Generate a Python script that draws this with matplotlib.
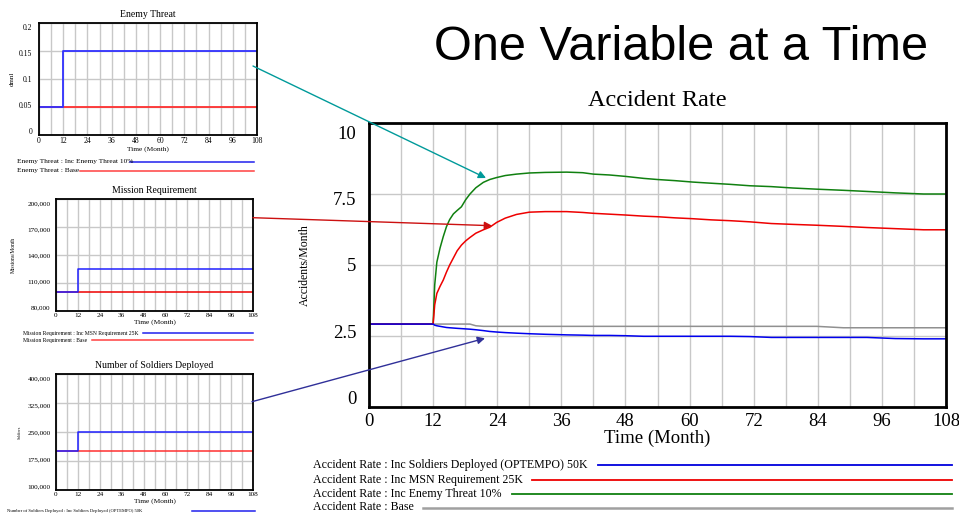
import matplotlib
matplotlib.use('Agg')
import matplotlib.pyplot as plt
import matplotlib.transforms as mtransforms
import numpy as np

# ---- data ----
months = [0, 12, 12.3, 12.7, 13.3, 13.9, 14.5, 15.1, 15.8, 16.5, 17.3, 18.1, 18.9, 20, 21.4,
          22.6, 23.9, 25.5, 27.6, 30, 33, 37, 40, 42, 45, 48, 51.4, 54, 57.3, 60.6, 64,
          67.6, 71.3, 75.3, 79.4, 83.8, 88.8, 93.2, 98.5, 103.8, 108]

rate_soldiers = [2.92, 2.92, 2.88, 2.86, 2.84, 2.82, 2.80, 2.79, 2.78, 2.77, 2.76, 2.75, 2.74, 2.72, 2.69,
                 2.66, 2.64, 2.62, 2.60, 2.58, 2.56, 2.54, 2.53, 2.52, 2.52, 2.51, 2.49, 2.49, 2.49, 2.49, 2.49,
                 2.49, 2.48, 2.45, 2.45, 2.45, 2.45, 2.45, 2.41, 2.40, 2.40]
rate_msn = [2.92, 2.92, 3.60, 4.00, 4.25, 4.47, 4.75, 5.00, 5.25, 5.50, 5.70, 5.85, 5.97, 6.12, 6.24,
            6.33, 6.50, 6.65, 6.78, 6.86, 6.88, 6.88, 6.85, 6.82, 6.79, 6.76, 6.72, 6.70, 6.66, 6.63, 6.59,
            6.56, 6.52, 6.46, 6.43, 6.40, 6.36, 6.32, 6.28, 6.24, 6.24]
rate_threat = [2.92, 2.92, 4.30, 5.10, 5.60, 6.00, 6.35, 6.60, 6.80, 6.92, 7.05, 7.30, 7.50, 7.72, 7.91,
               8.01, 8.08, 8.15, 8.20, 8.24, 8.26, 8.27, 8.25, 8.20, 8.17, 8.12, 8.05, 8.01, 7.97, 7.92, 7.88,
               7.84, 7.79, 7.76, 7.71, 7.67, 7.63, 7.59, 7.54, 7.50, 7.50]
rate_base = [2.92, 2.92, 2.92, 2.92, 2.92, 2.92, 2.92, 2.92, 2.92, 2.92, 2.92, 2.92, 2.92, 2.86, 2.84,
             2.84, 2.84, 2.84, 2.84, 2.84, 2.84, 2.84, 2.84, 2.84, 2.84, 2.84, 2.84, 2.84, 2.84, 2.84, 2.84,
             2.84, 2.84, 2.84, 2.84, 2.84, 2.79, 2.79, 2.79, 2.79, 2.79]

step_t = [0, 12, 108]
threat_inc = [0.05, 0.15, 0.15]
threat_base = [0.05, 0.05, 0.05]
msn_inc = [100000, 125000, 125000]
msn_base = [100000, 100000, 100000]
sold_inc = [200000, 250000, 250000]
sold_base = [200000, 200000, 200000]

main_labels = ['Accident Rate : Inc Soldiers Deployed (OPTEMPO) 50K',
               'Accident Rate : Inc MSN Requirement 25K',
               'Accident Rate : Inc Enemy Threat 10%',
               'Accident Rate : Base']

SERIF = ['Liberation Serif', 'DejaVu Serif']
SANS = ['Liberation Sans', 'DejaVu Sans']
GRID = '#c8c8c8'

W, H = 959, 514
fig = plt.figure(figsize=(W / 100, H / 100), dpi=100)


def box(l, t, r, b):
    return [l / W, 1 - b / H, (r - l) / W, (b - t) / H]


def squeeze_labels(ax, vals, px):
    # vensim draws the y labels pulled in toward the middle of the axis
    lo, hi = vals[0], vals[-1]
    mid, half = (lo + hi) / 2, (hi - lo) / 2
    for tick, v in zip(ax.yaxis.get_major_ticks(), vals):
        dy = -(v - mid) / half * px / 100
        off = mtransforms.ScaledTranslation(0, dy, fig.dpi_scale_trans)
        tick.label1.set_transform(tick.label1.get_transform() + off)


def style_axes(ax, lw, fs, pad):
    ax.set_xlim(0, 108)
    ax.set_xticks(range(0, 109, 12))
    ax.set_xticks(range(6, 108, 12), minor=True)
    ax.grid(True, which='both', axis='x', color=GRID, lw=1)
    ax.grid(True, which='major', axis='y', color=GRID, lw=1)
    ax.tick_params(which='both', length=0, labelsize=fs, pad=pad)
    for lab in ax.get_xticklabels() + ax.get_yticklabels():
        lab.set_family(SERIF)
    for s in ax.spines.values():
        s.set_linewidth(lw)
        s.set_color('black')
    ax.set_axisbelow(True)


# ---- main chart ----
ax = fig.add_axes(box(369, 123, 946, 407))
ax.plot(months, rate_base, color='#909090', lw=1.1)
ax.plot(months, rate_threat, color='#108010', lw=1.1)
ax.plot(months, rate_msn, color='#ee0000', lw=1.1)
ax.plot(months, rate_soldiers, color='#0000ee', lw=1.1)
ax.set_ylim(0, 10)
yv = [0, 2.5, 5, 7.5, 10]
ax.set_yticks(yv)
ax.set_yticklabels(['0', '2.5', '5', '7.5', '10'])
style_axes(ax, 2, 13.5, 4)
ax.tick_params(axis='y', pad=9)
squeeze_labels(ax, yv, 10)
ax.set_xlabel('Time (Month)', family=SERIF, fontsize=13.5, labelpad=0)
ax.set_ylabel('Accidents/Month', family=SERIF, fontsize=8.5, labelpad=16)
ax.set_title('Accident Rate', family=SERIF, fontsize=17.5, pad=12)

# ---- small charts ----
a1 = fig.add_axes(box(39, 23, 257, 135))
a1.plot(step_t, threat_base, color='#ff3030', lw=1.3, drawstyle='steps-post')
a1.plot(step_t, threat_inc, color='#3030ff', lw=1.3, drawstyle='steps-post')
a1.set_ylim(0, 0.2)
v1 = [0, 0.05, 0.1, 0.15, 0.2]
a1.set_yticks(v1)
a1.set_yticklabels(['0', '0.05', '0.1', '0.15', '0.2'])
style_axes(a1, 1.3, 5.5, 1.5)
a1.tick_params(axis='y', pad=5)
squeeze_labels(a1, v1, 4)
a1.set_xlabel('Time (Month)', family=SERIF, fontsize=5.3, labelpad=0.5)
a1.set_ylabel('dmnl', family=SERIF, fontsize=5, labelpad=3)
a1.set_title('Enemy Threat', family=SERIF, fontsize=7, pad=4)

a2 = fig.add_axes(box(56, 199, 253, 311))
a2.plot(step_t, msn_base, color='#ee0000', lw=1.1, drawstyle='steps-post')
a2.plot(step_t, msn_inc, color='#2020ff', lw=1.1, drawstyle='steps-post')
a2.set_ylim(80000, 200000)
v2 = [80000, 110000, 140000, 170000, 200000]
a2.set_yticks(v2)
a2.set_yticklabels([f'{v:,}' for v in v2])
style_axes(a2, 1.3, 5.2, 1.5)
a2.tick_params(axis='y', pad=4)
squeeze_labels(a2, v2, 4)
a2.set_xlabel('Time (Month)', family=SERIF, fontsize=5.3, labelpad=0.5)
a2.set_ylabel('Missions/Month', family=SERIF, fontsize=4, labelpad=8)
a2.set_title('Mission Requirement', family=SERIF, fontsize=7, pad=4)

a3 = fig.add_axes(box(56, 374, 253, 490))
a3.plot(step_t, sold_base, color='#ff3030', lw=1.1, drawstyle='steps-post')
a3.plot(step_t, sold_inc, color='#2020ff', lw=1.1, drawstyle='steps-post')
a3.set_ylim(100000, 400000)
v3 = [100000, 175000, 250000, 325000, 400000]
a3.set_yticks(v3)
a3.set_yticklabels([f'{v:,}' for v in v3])
style_axes(a3, 1.3, 5.2, 1.5)
a3.tick_params(axis='y', pad=4)
squeeze_labels(a3, v3, 4)
a3.set_xlabel('Time (Month)', family=SERIF, fontsize=5.3, labelpad=0.5)
a3.set_ylabel('Soldiers', family=SERIF, fontsize=3, labelpad=4)
a3.set_title('Number of Soldiers Deployed', family=SERIF, fontsize=7, pad=4)

# ---- overlay in pixel coords: headline, legends, arrows ----
ov = fig.add_axes([0, 0, 1, 1], zorder=10)
ov.set_xlim(0, W)
ov.set_ylim(H, 0)
ov.axis('off')
ov.patch.set_alpha(0)

ov.text(681, 48, 'One Variable at a Time', family=SANS, fontsize=35, ha='center', va='center')

main_cols = ['#0000dd', '#ee0000', '#108010', '#a0a0a0']
main_y = [465, 479.5, 493.5, 507.5]
main_x0 = [598, 532, 512, 423]
for lab, c, y, x0 in zip(main_labels, main_cols, main_y, main_x0):
    ov.text(313, y, lab, family=SERIF, fontsize=8.6, va='center')
    ov.plot([x0, 952], [y, y], color=c, lw=1.3 if c != '#a0a0a0' else 1.8)

small_legends = [
    ('Enemy Threat : Inc Enemy Threat 10%', 17, 161.5, 130, 254, '#2020ee', 5.3),
    ('Enemy Threat : Base', 17, 170.5, 80, 254, '#ff4040', 5.3),
    ('Mission Requirement : Inc MSN Requirement 25K', 23, 333.3, 143, 253, '#2020ee', 4.1),
    ('Mission Requirement : Base', 23, 340.3, 92, 253, '#ff4040', 4.1),
    ('Number of Soldiers Deployed : Inc Soldiers Deployed (OPTEMPO) 50K', 7, 511.3, 192, 255, '#2020ee', 3.3),
]
for lab, tx, y, x0, x1, c, fs in small_legends:
    ov.text(tx, y, lab, family=SERIF, fontsize=fs, va='center')
    ov.plot([x0, x1], [y, y], color=c, lw=1.1)

arrows = [((253, 66), (486, 178), '#009a9a'),
          ((253, 217.7), (492, 225.7), '#cc1010'),
          ((252, 401.7), (485, 338.3), '#303099')]
for start, end, c in arrows:
    ov.annotate('', xy=end, xytext=start,
                arrowprops=dict(arrowstyle='-|>', color=c, lw=1, mutation_scale=11,
                                shrinkA=0, shrinkB=0))

plt.savefig('out.png', dpi=100)
